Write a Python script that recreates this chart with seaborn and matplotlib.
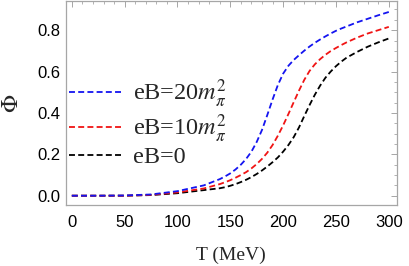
import numpy as np
import pandas as pd
import seaborn as sns
import matplotlib.pyplot as plt
from matplotlib.ticker import MultipleLocator

sns.set_style("white")
plt.rcParams['font.family'] = ['Liberation Sans', 'DejaVu Sans']
plt.rcParams['mathtext.fontset'] = 'stix'

# Polyakov loop vs temperature
T = [0, 25, 50, 75, 100, 125, 140, 145, 150, 155, 160, 165, 170, 175, 180, 185, 190,
     195, 200, 205, 210, 215, 220, 225, 230, 235, 240, 245, 250, 255, 260, 270, 280,
     290, 300]
phi_eb20 = [0.0, 0.0, 0.001, 0.006, 0.022, 0.05, 0.08, 0.093, 0.108, 0.127, 0.15,
            0.178, 0.213, 0.26, 0.318, 0.39, 0.465, 0.535, 0.59, 0.628, 0.656, 0.679,
            0.701, 0.721, 0.739, 0.755, 0.77, 0.784, 0.797, 0.808, 0.818, 0.838, 0.855,
            0.872, 0.888]
phi_eb10 = [0.0, 0.0, 0.0, 0.004, 0.016, 0.035, 0.056, 0.065, 0.075, 0.087, 0.1,
            0.114, 0.132, 0.153, 0.178, 0.208, 0.245, 0.29, 0.34, 0.395, 0.452, 0.508,
            0.56, 0.603, 0.635, 0.66, 0.681, 0.699, 0.714, 0.728, 0.741, 0.764, 0.784,
            0.80, 0.816]
phi_eb0 = [0.0, 0.0, 0.0, 0.003, 0.012, 0.027, 0.036, 0.041, 0.048, 0.056, 0.066,
           0.077, 0.09, 0.105, 0.122, 0.141, 0.162, 0.185, 0.213, 0.245, 0.283, 0.33,
           0.385, 0.438, 0.488, 0.532, 0.57, 0.6, 0.626, 0.648, 0.667, 0.695, 0.72,
           0.741, 0.76]

labels = [r'eB=20$m_\pi^2$', r'eB=10$m_\pi^2$', 'eB=0']
colors = ['#1414f0', '#f01414', 'black']

fig = plt.figure(figsize=(4.09, 2.66), dpi=100)
ax = fig.add_axes([0.1614, 0.2293, 0.8086, 0.7677])

series = [phi_eb20, phi_eb10, phi_eb0]
lines = {}
for i in [2, 1, 0]:
    sns.lineplot(x=T, y=series[i], ax=ax, color=colors[i], estimator=None,
                 linewidth=1.3, label=labels[i], legend=False)
    ln = ax.lines[-1]
    ln.set_dashes((3.3, 1.8))
    lines[i] = ln

ax.set_xlim(-5.5, 307.5)
ax.set_ylim(-0.045, 0.942)
ax.xaxis.set_major_locator(MultipleLocator(50))
ax.xaxis.set_minor_locator(MultipleLocator(10))
ax.yaxis.set_major_locator(MultipleLocator(0.2))
ax.yaxis.set_minor_locator(MultipleLocator(0.05))
ax.set_yticks([0.0, 0.2, 0.4, 0.6, 0.8])
ax.set_yticklabels(['0.0', '0.2', '0.4', '0.6', '0.8'])

frame = '#a6a6a6'
for s in ax.spines.values():
    s.set_color(frame)
    s.set_linewidth(0.9)
ax.tick_params(which='both', direction='in', top=True, right=True, color=frame,
               labelsize=12, labelcolor='black')
ax.tick_params(which='major', length=4, width=0.7)
ax.tick_params(which='minor', length=2.3, width=0.6)
ax.tick_params(axis='x', pad=7)
ax.tick_params(axis='y', pad=4)

ax.set_xlabel('T (MeV)', family='Liberation Serif', fontsize=14, labelpad=12)
ax.set_ylabel(r'$\Phi$', fontsize=17, labelpad=10)

ax.legend(handles=[lines[0], lines[1], lines[2]], labels=labels, loc='center left',
          bbox_to_anchor=(0.009, 0.40), frameon=False, borderpad=0, borderaxespad=0,
          handlelength=2.17, handletextpad=0.47, labelspacing=0.08,
          prop={'family': 'Liberation Serif', 'size': 17.5})

fig.savefig('out.png', dpi=100)
